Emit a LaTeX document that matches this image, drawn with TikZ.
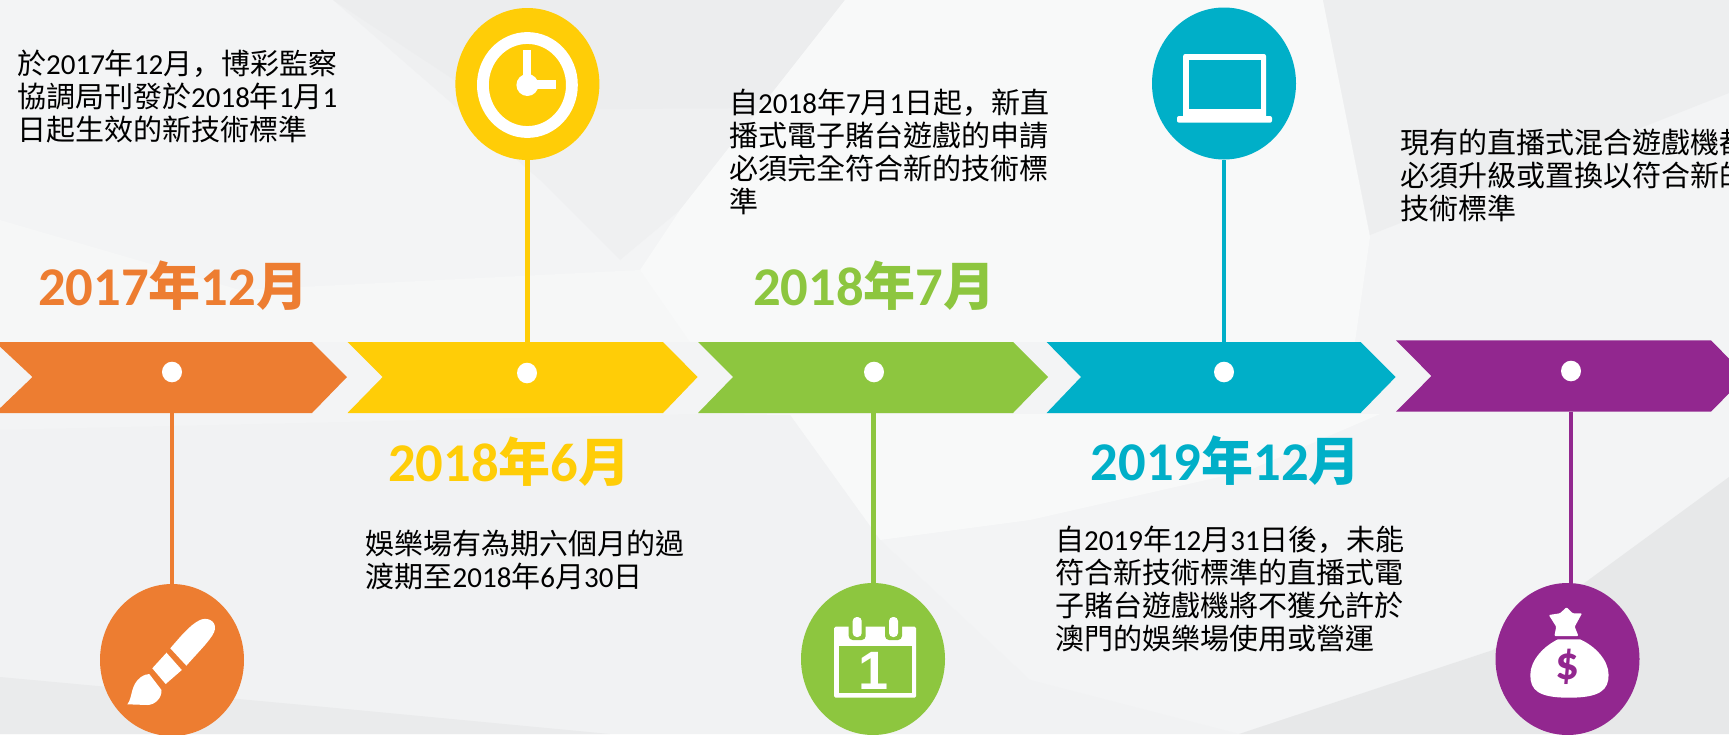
\documentclass[tikz,border=0pt]{standalone}
\usepackage{fontspec}
\usetikzlibrary{shapes.geometric}
\setmainfont{Noto Sans CJK TC}
\newfontfamily\lat[Scale=1.0]{Carlito}
\newfontfamily\latb[Scale=1.05]{Carlito}
\newfontfamily\scf{Noto Sans CJK SC}
\newfontfamily\arl{Liberation Sans}
\newcommand{\D}[1]{{\lat #1}}
\newcommand{\Db}[1]{{\latb\bfseries #1}}
\newcommand{\Cm}{{\scf ，}}
\newcommand{\Ln}[1]{\hbox{#1}}
\newcommand{\Para}[1]{\vtop{\baselineskip=33.3pt\lineskiplimit=-1000pt #1}}
\definecolor{cO}{HTML}{ED7D31}
\definecolor{cY}{HTML}{FFCD07}
\definecolor{cG}{HTML}{8DC63F}
\definecolor{cT}{HTML}{00AFC8}
\definecolor{cP}{HTML}{92278F}
\definecolor{bgBase}{HTML}{F3F4F5}
\definecolor{bgLight}{HTML}{F8F9F9}
\definecolor{bgMid}{HTML}{F1F2F3}
\definecolor{bgDark}{HTML}{EAEBEC}
\definecolor{bgDarker}{HTML}{E7E8E9}
\tikzset{
  x=1pt,y=-1pt,
  hub/.style={ellipse,minimum width=144pt,minimum height=152pt,inner sep=0pt,fill=#1},
  dotmark/.style={ellipse,minimum width=20pt,minimum height=20.6pt,inner sep=0pt,fill=white},
  stem/.style={draw=#1,line width=4.5pt},
  year/.style={inner sep=0pt,anchor=base west,text=#1,font=\fontsize{52}{56}\selectfont\bfseries},
  body/.style={inner sep=0pt,anchor=base west,text=black,font=\fontsize{29}{33}\selectfont},
  icon/.style={fill=white}
}
\begin{document}
\begin{tikzpicture}
\useasboundingbox (0,0) rectangle (1729,734);
\clip (0,0) rectangle (1729,734);
% background facets
\fill[bgBase] (0,0) rectangle (1729,734);
\fill[bgLight!50!bgBase] (0,220) -- (240,290) -- (640,270) -- (700,342) -- (0,342) -- cycle;
\fill[bgDark!45!bgBase] (333,0) -- (845,0) -- (680,210) -- (620,260) -- (540,180) -- cycle;
\fill[bgDark!80!bgBase] (333,0) -- (845,0) -- (760,108) -- (500,110) -- cycle;
\fill[bgLight] (845,0) -- (1323,0) -- (1370,237) -- (1355,342) -- (690,342) -- (640,270) -- (680,210) -- cycle;
\fill[bgDark!70!bgBase] (1323,0) -- (1729,0) -- (1729,93) -- (1370,235) -- cycle;
\fill[bgLight] (700,414) -- (1380,414) -- (1250,470) -- (1030,520) -- (880,540) -- (790,415) -- cycle;
\fill[bgMid] (0,430) -- (700,414) -- (790,415) -- (880,540) -- (1030,680) -- (1239,734) -- (0,734) -- cycle;
\fill[bgDark] (0,677) -- (325,707) -- (610,734) -- (0,734) -- cycle;
\fill[bgDarker] (1239,734) -- (1493,650) -- (1729,477) -- (1729,734) -- cycle;
% chevrons
\fill[cO] (-5,342) -- (312,342) -- (347,377) -- (312,413) -- (-5,413) -- (32.5,377) -- cycle;
\fill[cY] (347.5,342) -- (663,342) -- (697.6,377) -- (663,413) -- (347.5,413) -- (382.7,377) -- cycle;
\fill[cG] (698,342) -- (1013,342) -- (1048,377) -- (1013,413) -- (698,413) -- (733,377) -- cycle;
\fill[cT] (1046.6,342) -- (1360.5,342) -- (1395.6,377) -- (1360.5,413) -- (1046.6,413) -- (1081,377) -- cycle;
\fill[cP] (1396,340.3) -- (1711,340.3) -- (1746,376) -- (1711,411.7) -- (1396,411.7) -- (1431.4,376) -- cycle;
% band anchor points
\coordinate (bandA) at (172,413);
\coordinate (bandB) at (527.4,342);
\coordinate (bandC) at (873.5,413);
\coordinate (bandD) at (1224,342);
\coordinate (bandE) at (1571,411.7);
% hubs
\node[hub=cO] (hubA) at (172,660) {};
\node[hub=cY] (hubB) at (527.4,84) {};
\node[hub=cG] (hubC) at (873,659) {};
\node[hub=cT] (hubD) at (1224,83.5) {};
\node[hub=cP] (hubE) at (1567.5,659) {};
% stems
\draw[stem=cO] (bandA) -- (bandA |- hubA.north);
\draw[stem=cY] (bandB) -- (bandB |- hubB.south);
\draw[stem=cG] (bandC) -- (bandC |- hubC.north);
\draw[stem=cT] (bandD) -- (bandD |- hubD.south);
\draw[stem=cP] (bandE) -- (bandE |- hubE.north);
% dots
\node[dotmark] (dotA) at (172,372) {};
\node[dotmark] (dotB) at (527,373) {};
\node[dotmark] (dotC) at (874,372) {};
\node[dotmark] (dotD) at (1224,372) {};
\node[dotmark] (dotE) at (1571,371) {};
% years
\node[year=cO] (yearA) at (38,305) {\Db{2017}年\Db{12}月};
\node[year=cY] (yearB) at (388,481.7) {\Db{2018}年\Db{6}月};
\node[year=cG] (yearC) at (753,305) {\Db{2018}年\Db{7}月};
\node[year=cT] (yearD) at (1090.6,480) {\Db{2019}年\Db{12}月};
% bodies
\node[body] (textA) at (17,74) {\Para{\Ln{於\D{2017}年\D{12}月\Cm 博彩監察}\Ln{協調局刊發於\D{2018}年\D{1}月\D{1}}\Ln{日起生效的新技術標準}}};
\node[body] (textB) at (365.5,554) {\Para{\Ln{娛樂場有為期六個月的過}\Ln{渡期至\D{2018}年\D{6}月\D{30}日}}};
\node[body] (textC) at (729,113) {\Para{\Ln{自\D{2018}年\D{7}月\D{1}日起\Cm 新直}\Ln{播式電子賭台遊戲的申請}\Ln{必須完全符合新的技術標}\Ln{準}}};
\node[body] (textD) at (1055,550) {\Para{\Ln{自\D{2019}年\D{12}月\D{31}日後\Cm 未能}\Ln{符合新技術標準的直播式電}\Ln{子賭台遊戲機將不獲允許於}\Ln{澳門的娛樂場使用或營運}}};
\node[body] (textE) at (1400,153) {\Para{\Ln{現有的直播式混合遊戲機都}\Ln{必須升級或置換以符合新的}\Ln{技術標準}}};
% brush icon
\fill[icon] (170.3,648.3) .. controls (180,637) and (190,625) .. (199,620.5) .. controls (206,616.5) and (216,620) .. (215,629) .. controls (214,637) and (200,650) .. (186.4,665.7) -- cycle;
\fill[icon] (152.3,668.3) -- (166.5,652.7) -- (181.8,670) -- (165.7,684) -- cycle;
\fill[icon] (127.4,704.3) .. controls (133,697) and (130,685) .. (141,677) .. controls (144,675) and (147,674) .. (149.3,674) -- (161.5,690) .. controls (162,698) and (155,705) .. (147.3,705) -- cycle;
% clock icon
\draw[white,line width=11.8pt] (527.4,85) ellipse [x radius=44.5pt,y radius=47pt];
\fill[icon] (527.4,85) circle [radius=11pt];
\fill[icon] (523.4,50) rectangle (531.4,85);
\fill[icon] (527.4,80.3) rectangle (555.7,89.3);
% calendar icon
\fill[icon,rounded corners=1.5pt] (834.2,626.7) rectangle (916.1,697.7);
\fill[cG] (839.2,646) rectangle (911.9,692.7);
\fill[cG,rounded corners=4pt] (848.7,622) rectangle (865.7,640);
\fill[cG,rounded corners=4pt] (885,622) rectangle (902,640);
\fill[icon,rounded corners=4pt] (852.7,617) rectangle (861.7,637);
\fill[icon,rounded corners=4pt] (889,617) rectangle (898,637);
\node[inner sep=0pt,anchor=base,text=white,font=\fontsize{54}{56}\selectfont] (calOne) at (873.6,689) {\arl\bfseries 1};
% laptop icon
\fill[icon,rounded corners=2pt] (1183.2,54) rectangle (1266,120);
\fill[cT] (1189,60) rectangle (1260.8,109.3);
\fill[icon,rounded corners=2pt] (1177,116) rectangle (1272,122.7);
% money bag icon
\fill[icon] (1558,639.3) -- (1580,639.3) .. controls (1595,646) and (1608.6,660) .. (1608.6,675) .. controls (1608.6,690) and (1600,697.7) .. (1569,697.7) .. controls (1538,697.7) and (1530.3,690) .. (1530.3,675) .. controls (1530.3,660) and (1544,646) .. (1558,639.3) -- cycle;
\fill[icon,rounded corners=1pt] (1548.8,615) -- (1559.9,613.3) -- (1566.5,607.3) -- (1572.8,613.3) -- (1582,613.3) -- (1574.7,626.7) -- (1578.4,636) -- (1554.4,636) -- (1556.2,626.7) -- cycle;
\node[inner sep=0pt,text=cP,font=\fontsize{45}{48}\selectfont] (bagSign) at (1567,667) {\latb\bfseries\$};
\end{tikzpicture}
\end{document}
